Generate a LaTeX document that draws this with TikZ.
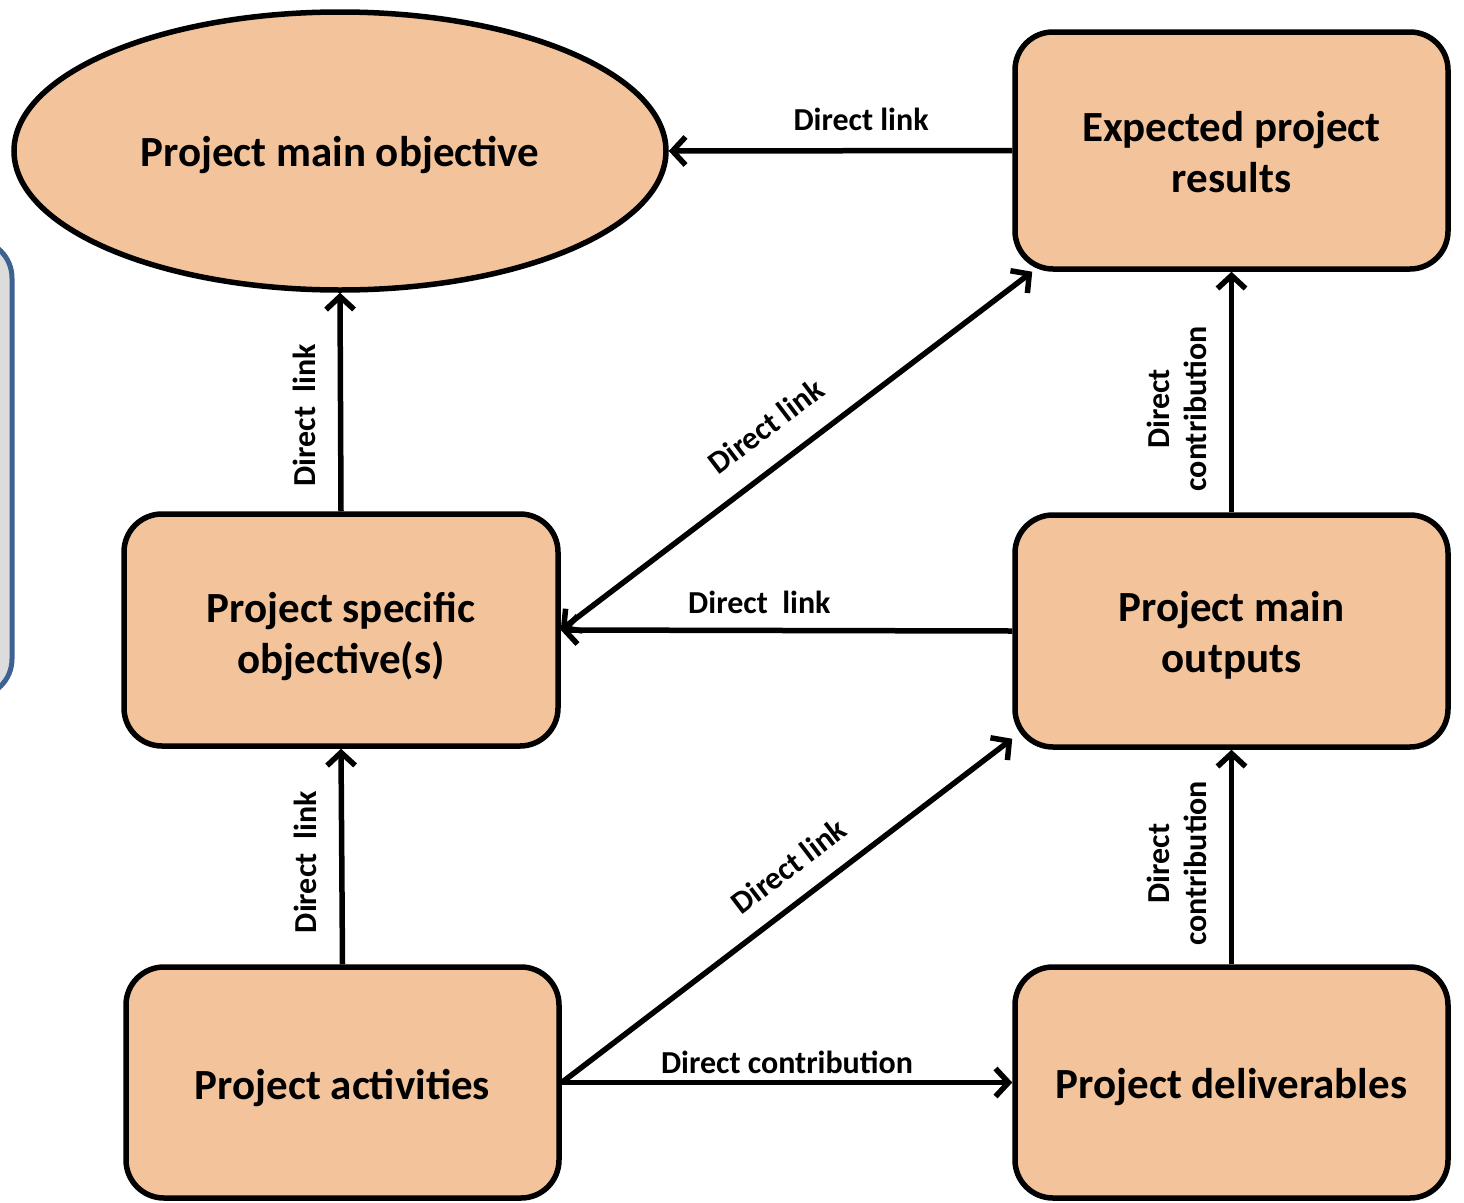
\documentclass[tikz,border=0pt]{standalone}
\usepackage{fontspec}
\setmainfont{Carlito}
\usetikzlibrary{arrows.meta,shapes.geometric}
\definecolor{peach}{HTML}{F3C49B}
\definecolor{sidegray}{HTML}{DCDCDC}
\definecolor{sideblue}{HTML}{3E6192}
\newcommand{\lowr}[2]{\raisebox{-#1}[\height][\depth]{#2}}
\tikzset{
  box/.style={draw=black, line width=5.5pt, fill=peach, rounded corners=38pt,
    align=center, font=\fontsize{43}{51}\selectfont\bfseries, inner sep=0pt},
  barb/.tip={Straight Barb[length=13pt,width=28pt,line width=5.5pt]},
  conn/.style={line width=5.5pt, -barb},
  lbl/.style={font=\fontsize{32}{37}\selectfont\bfseries, inner sep=2pt, align=center}
}
\begin{document}
\begin{tikzpicture}[x=1pt,y=-1pt]
\useasboundingbox (0,0) rectangle (1464,1202);
\begin{scope}
\clip (0,0) rectangle (1464,1202);
\draw[draw=sideblue, line width=5pt, fill=sidegray, rounded corners=38pt] (-60,240) rectangle (12,697);
\end{scope}

\node[ellipse, draw=black, line width=5.5pt, fill=peach, minimum width=652pt, minimum height=278pt,
  inner sep=0pt, font=\fontsize{43}{51}\selectfont\bfseries] (ell) at (340,151) {\lowr{4pt}{Project main objective}};
\node[box, minimum width=433pt, minimum height=237pt] (res) at (1231.5,150.5) {\lowr{2pt}{Expected project}\\\lowr{2pt}{results}};
\node[box, minimum width=434pt, minimum height=232pt] (spec) at (341,630) {\lowr{7pt}{Project specific}\\\lowr{7pt}{objective(s)}};
\node[box, minimum width=433pt, minimum height=232pt] (out) at (1231.5,631) {\lowr{4pt}{Project main}\\\lowr{4pt}{outputs}};
\node[box, minimum width=433pt, minimum height=231pt] (act) at (342.5,1082.5) {\lowr{5pt}{Project activities}};
\node[box, minimum width=433pt, minimum height=231pt] (del) at (1231.5,1082.5) {\lowr{5pt}{Project deliverables}};

\coordinate (resBL) at ([xshift=20pt]res.south west);
\coordinate (outBL) at ([yshift=11pt]out.south west);

\draw[conn] (res.west) -- node[lbl, pos=0.44, anchor=south, outer sep=18pt] {Direct link} (ell.east);
\draw[conn] (spec.north) -- node[lbl, rotate=90, anchor=south, pos=0.44, outer sep=23pt] {Direct\ \ link} (ell.south);
\draw[conn] (out.west) -- node[lbl, pos=0.56, anchor=south, outer sep=15pt] {Direct\ \ link} (spec.east);
\draw[conn, barb-barb] (spec.east) -- node[lbl, sloped, anchor=south, pos=0.484, outer sep=25pt] {Direct link} (resBL);
\draw[conn] (act.north) -- node[lbl, rotate=90, anchor=south, pos=0.475, outer sep=23pt] {Direct\ \ link} (spec.south);
\draw[conn] (act.east) -- node[lbl, sloped, anchor=south, pos=0.55, outer sep=21pt] {Direct link} (outBL);
\draw[conn] (act.east) -- node[lbl, pos=0.5, anchor=south, outer sep=7pt] {Direct contribution} (del.west);
\draw[conn] (out.north) -- node[lbl, rotate=90, anchor=south, pos=0.43, outer sep=23pt] {Direct\\contribution} (res.south);
\draw[conn] (del.north) -- node[lbl, rotate=90, anchor=south, pos=0.47, outer sep=23pt] {Direct\\contribution} (out.south);
\end{tikzpicture}
\end{document}
